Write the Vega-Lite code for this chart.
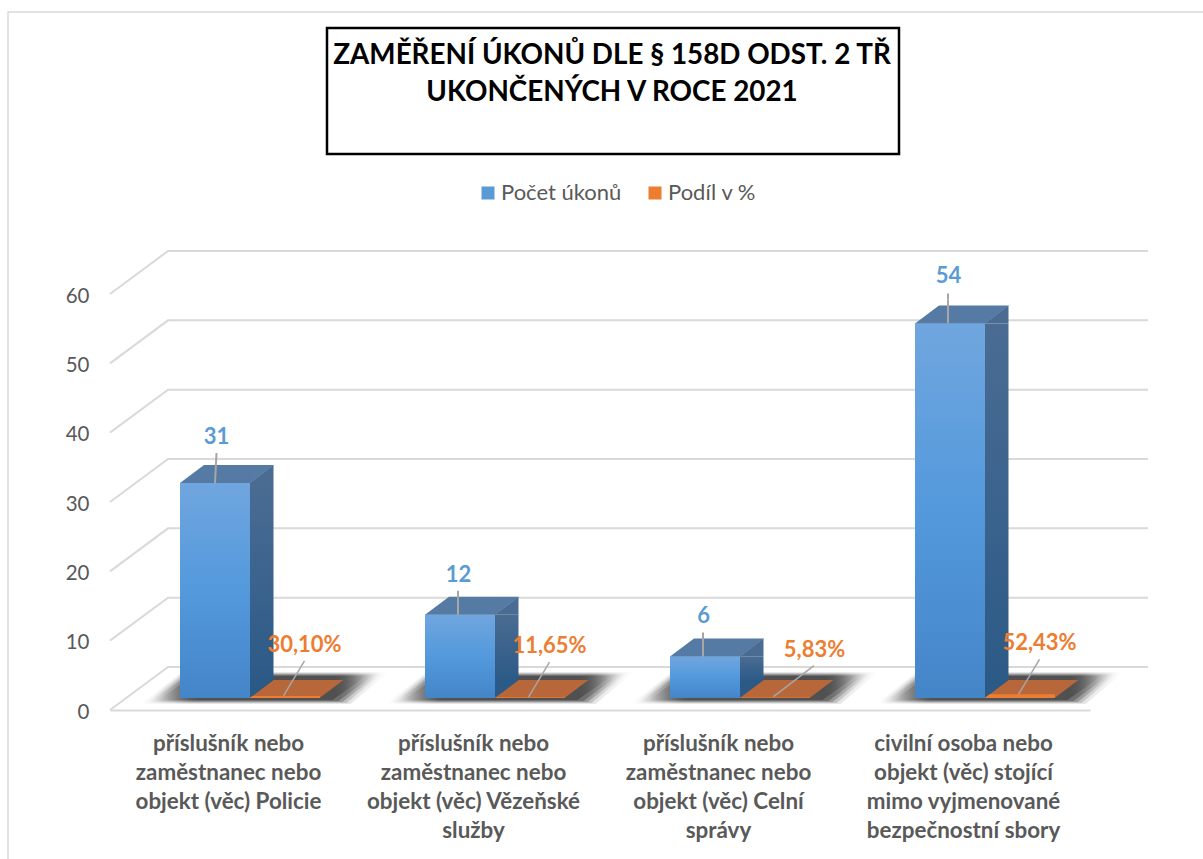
{
"$schema":"https://vega.github.io/schema/vega-lite/v6.json",
"width":980,"height":416,
"autosize":{"type":"none"},
"padding":{"left":110,"top":294,"right":113,"bottom":149},
"background":"white",
"config":{"view":{"stroke":null},"font":"Lato","locale":{"number":{"decimal":",","thousands":" ","grouping":[3],"currency":["","Kč"]}}},
"title":{"text":["ZAMĚŘENÍ ÚKONŮ DLE § 158D ODST. 2 TŘ","UKONČENÝCH V ROCE 2021"],"font":"Lato","fontSize":27.8,"fontWeight":"bold","color":"#000000","lineHeight":37,"anchor":"middle","frame":"group","dx":12,"offset":0,"dy":98},
"datasets":{"pruhy":[
{"kategorie":"příslušník nebo\nzaměstnanec nebo\nobjekt (věc) Policie","serie":"Počet úkonů","hodnota":31},
{"kategorie":"příslušník nebo\nzaměstnanec nebo\nobjekt (věc) Policie","serie":"Podíl v %","hodnota":0.301},
{"kategorie":"příslušník nebo\nzaměstnanec nebo\nobjekt (věc) Vězeňské\nslužby","serie":"Počet úkonů","hodnota":12},
{"kategorie":"příslušník nebo\nzaměstnanec nebo\nobjekt (věc) Vězeňské\nslužby","serie":"Podíl v %","hodnota":0.1165},
{"kategorie":"příslušník nebo\nzaměstnanec nebo\nobjekt (věc) Celní\nsprávy","serie":"Počet úkonů","hodnota":6},
{"kategorie":"příslušník nebo\nzaměstnanec nebo\nobjekt (věc) Celní\nsprávy","serie":"Podíl v %","hodnota":0.0583},
{"kategorie":"civilní osoba nebo\nobjekt (věc) stojící\nmimo vyjmenované\nbezpečnostní sbory","serie":"Počet úkonů","hodnota":54},
{"kategorie":"civilní osoba nebo\nobjekt (věc) stojící\nmimo vyjmenované\nbezpečnostní sbory","serie":"Podíl v %","hodnota":0.5243}
],
"dilky":[{"hodnota":0},{"hodnota":10},{"hodnota":20},{"hodnota":30},{"hodnota":40},{"hodnota":50},{"hodnota":60}]},
"data":{"name":"pruhy"},
"encoding":{
"x":{"field":"kategorie","type":"nominal","sort":null,"title":null,"scale":{"paddingInner":0,"paddingOuter":0},"axis":{"labelExpr":"split(datum.label,'\\n')","labelAngle":0,"labelFontSize":22.4,"labelFontWeight":"bold","labelColor":"#595959","labelLineHeight":29.3,"labelPadding":22,"labelOffset":-4,"labelLimit":0,"ticks":false,"domainColor":"#d9d9d9","domainWidth":2,"labelFont":"Lato"}},
"y":{"field":"hodnota","type":"quantitative","title":null,"scale":{"domain":[0,60],"nice":false},"axis":{"values":[0,10,20,30,40,50,60],"domain":false,"ticks":false,"grid":false,"labelFontSize":20.5,"labelColor":"#595959","labelPadding":21,"labelOffset":2,"labelFont":"Lato"}}
},
"layer":[
{"data":{"name":"dilky"},"transform":[{"filter":"datum.hodnota===60"}],"mark":{"type":"point","filled":false,"size":4,"opacity":1,"stroke":"#d9d9d9","strokeWidth":1.5,"shape":"M-224.5 565 L-224.5 -282 L970.5 -282"},
 "encoding":{"x":{"datum":"příslušník nebo\nzaměstnanec nebo\nobjekt (věc) Policie","type":"nominal"}}},
{"data":{"name":"dilky"},"mark":{"type":"point","filled":false,"size":4,"opacity":1,"stroke":"#d9d9d9","strokeWidth":2,"shape":"M-122.5 0 L-64.5 -43 L915.5 -43"},
 "encoding":{"x":{"datum":"příslušník nebo\nzaměstnanec nebo\nobjekt (věc) Policie","type":"nominal"}}},
{"data":{"name":"dilky"},"transform":[{"filter":"datum.hodnota===60"}],"mark":{"type":"point","filled":true,"size":4,"opacity":1,"fill":"#ffffff","stroke":"#000000","strokeWidth":2.5,"shape":"M94.5 -266 L666.5 -266 L666.5 -140 L94.5 -140 Z"},
 "encoding":{"x":{"datum":"příslušník nebo\nzaměstnanec nebo\nobjekt (věc) Policie","type":"nominal"}}},
{"transform":[{"filter":"datum.serie==='Počet úkonů'"}],"mark":{"type":"point","filled":true,"size":4,"opacity":1,"strokeWidth":0,"shape":"M-92 -6 L118 -6 L156 -38 L-50 -38 Z","fill":{"gradient":"linear","x1":0,"y1":0,"x2":1,"y2":0,"stops":[{"offset":0,"color":"rgba(50,50,50,0)"},{"offset":0.2,"color":"rgba(50,50,50,0.12)"},{"offset":0.85,"color":"rgba(50,50,50,0.12)"},{"offset":1,"color":"rgba(50,50,50,0)"}]}},
 "encoding":{"y":{"datum":0,"type":"quantitative"}}},
{"transform":[{"filter":"datum.serie==='Počet úkonů'"}],"mark":{"type":"point","filled":true,"size":4,"opacity":1,"strokeWidth":0,"shape":"M-88 -7 L114 -7 L150 -37 L-48 -37 Z","fill":{"gradient":"linear","x1":0,"y1":0,"x2":1,"y2":0,"stops":[{"offset":0,"color":"rgba(50,50,50,0)"},{"offset":0.2,"color":"rgba(50,50,50,0.2)"},{"offset":0.85,"color":"rgba(50,50,50,0.2)"},{"offset":1,"color":"rgba(50,50,50,0)"}]}},
 "encoding":{"y":{"datum":0,"type":"quantitative"}}},
{"transform":[{"filter":"datum.serie==='Počet úkonů'"}],"mark":{"type":"point","filled":true,"size":4,"opacity":1,"strokeWidth":0,"shape":"M-84 -8 L110 -8 L146 -36 L-46 -36 Z","fill":{"gradient":"linear","x1":0,"y1":0,"x2":1,"y2":0,"stops":[{"offset":0,"color":"rgba(50,50,50,0)"},{"offset":0.2,"color":"rgba(50,50,50,0.3)"},{"offset":0.85,"color":"rgba(50,50,50,0.3)"},{"offset":1,"color":"rgba(50,50,50,0)"}]}},
 "encoding":{"y":{"datum":0,"type":"quantitative"}}},
{"transform":[{"filter":"datum.serie==='Počet úkonů'"}],"mark":{"type":"point","filled":true,"size":4,"opacity":1,"strokeWidth":0,"shape":"M-80 -9 L106 -9 L141 -35 L-44 -35 Z","fill":{"gradient":"linear","x1":0,"y1":0,"x2":1,"y2":0,"stops":[{"offset":0,"color":"rgba(50,50,50,0)"},{"offset":0.2,"color":"rgba(50,50,50,0.4)"},{"offset":0.85,"color":"rgba(50,50,50,0.4)"},{"offset":1,"color":"rgba(50,50,50,0)"}]}},
 "encoding":{"y":{"datum":0,"type":"quantitative"}}},
{"transform":[{"filter":"datum.serie==='Počet úkonů'"}],"mark":{"type":"point","filled":true,"size":4,"opacity":1,"strokeWidth":0,"shape":"M-74 -10 L100 -10 L134 -34 L-40 -34 Z","fill":{"gradient":"linear","x1":0,"y1":0,"x2":1,"y2":0,"stops":[{"offset":0,"color":"rgba(50,50,50,0)"},{"offset":0.2,"color":"rgba(50,50,50,0.5)"},{"offset":0.85,"color":"rgba(50,50,50,0.5)"},{"offset":1,"color":"rgba(50,50,50,0)"}]}},
 "encoding":{"y":{"datum":0,"type":"quantitative"}}},
{"transform":[{"filter":"datum.serie==='Podíl v %'"}],"mark":{"type":"point","filled":true,"size":4,"opacity":1,"strokeWidth":0,"fill":"#b8673a","shape":"M17 -12 L87 -12 L111 -30 L41 -30 Z"},
 "encoding":{"y":{"datum":0,"type":"quantitative"}}},
{"transform":[{"filter":"datum.serie==='Podíl v %'"}],"mark":{"type":"bar","width":70,"xOffset":52.5,"yOffset":-12,"y2Offset":-12},
 "encoding":{"y2":{"datum":0},"color":{"field":"serie","type":"nominal","title":null,"scale":{"domain":["Počet úkonů","Podíl v %"],"range":["#5b9bd5","#ed7d31"]},"legend":{"orient":"none","legendX":367,"legendY":-112,"direction":"horizontal","columns":2,"symbolType":"square","symbolSize":169,"symbolStrokeWidth":0,"labelFontSize":22,"labelColor":"#595959","labelFont":"Lato","labelOffset":2,"columnPadding":22,"padding":0}}}},
{"transform":[{"filter":"datum.serie==='Počet úkonů'"}],"mark":{"type":"bar","width":24,"xOffset":29,"yOffset":-12,"y2Offset":-30,"fill":{"gradient":"linear","x1":0,"y1":0,"x2":0,"y2":1,"stops":[{"offset":0,"color":"#4a6c93"},{"offset":1,"color":"#2c5a87"}]}},
 "encoding":{"y2":{"datum":0}}},
{"transform":[{"filter":"datum.serie==='Počet úkonů'"}],"mark":{"type":"point","filled":true,"size":4,"opacity":1,"strokeWidth":0,"fill":"#4a6c93","shape":"M17 -12 L41 -12 L41 -30 Z"}},
{"transform":[{"filter":"datum.serie==='Počet úkonů'"}],"mark":{"type":"point","filled":true,"size":4,"opacity":1,"strokeWidth":0,"fill":"#2c5a87","shape":"M17 -12 L17 -30 L41 -30 Z"},
 "encoding":{"y":{"datum":0,"type":"quantitative"}}},
{"transform":[{"filter":"datum.serie==='Počet úkonů'"}],"mark":{"type":"bar","width":70,"xOffset":-17.5,"yOffset":-12,"y2Offset":-12},
 "encoding":{"y2":{"datum":0},"color":{"field":"serie","type":"nominal","title":null}}},
{"transform":[{"filter":"datum.serie==='Počet úkonů'"}],"mark":{"type":"bar","width":70,"xOffset":-17.5,"yOffset":-12,"y2Offset":-12,"fill":{"gradient":"linear","x1":0,"y1":0,"x2":0,"y2":1,"stops":[{"offset":0,"color":"#70a6df"},{"offset":0.5,"color":"#5399dc"},{"offset":1,"color":"#4485c8"}]}},
 "encoding":{"y2":{"datum":0}}},
{"transform":[{"filter":"datum.serie==='Počet úkonů'"}],"mark":{"type":"point","filled":true,"size":4,"opacity":1,"strokeWidth":0,"fill":"#557aa3","shape":"M-52.5 -12 L17.5 -12 L41.5 -30 L-28.5 -30 Z"}},
{"transform":[{"filter":"datum.serie==='Počet úkonů' && datum.hodnota===31"}],"mark":{"type":"point","filled":false,"size":4,"opacity":1,"stroke":"#a6a6a6","strokeWidth":2,"shape":"M-17.5 -12 L-16 -42"}},
{"transform":[{"filter":"datum.serie==='Počet úkonů' && datum.hodnota!==31"}],"mark":{"type":"point","filled":false,"size":4,"opacity":1,"stroke":"#a6a6a6","strokeWidth":2,"shape":"M-19.5 -12 L-19.5 -36"}},
{"transform":[{"filter":"datum.serie==='Počet úkonů' && datum.hodnota===54"}],"mark":{"type":"point","filled":false,"size":4,"opacity":1,"stroke":"#a6a6a6","strokeWidth":2,"shape":"M-19.5 -36 L-19.5 -42"}},
{"transform":[{"filter":"datum.serie==='Podíl v %' && datum.hodnota!==0.0583"}],"mark":{"type":"point","filled":false,"size":4,"opacity":1,"stroke":"#a6a6a6","strokeWidth":1.5,"shape":"M51 -12 L72 -47"}},
{"transform":[{"filter":"datum.serie==='Podíl v %' && datum.hodnota===0.0583"}],"mark":{"type":"point","filled":false,"size":4,"opacity":1,"stroke":"#a6a6a6","strokeWidth":1.5,"shape":"M51 -13 L91.5 -44"}},
{"transform":[{"filter":"datum.serie==='Počet úkonů' && datum.hodnota===31"}],"mark":{"type":"text","font":"Lato","fontWeight":"bold","fontSize":22,"color":"#5b9bd5","dx":-16,"dy":-58},"encoding":{"text":{"field":"hodnota","type":"quantitative","format":"d"}}},
{"transform":[{"filter":"datum.serie==='Počet úkonů' && datum.hodnota===54"}],"mark":{"type":"text","font":"Lato","fontWeight":"bold","fontSize":22,"color":"#5b9bd5","dx":-19,"dy":-60},"encoding":{"text":{"field":"hodnota","type":"quantitative","format":"d"}}},
{"transform":[{"filter":"datum.serie==='Počet úkonů' && datum.hodnota<=20"}],"mark":{"type":"text","font":"Lato","fontWeight":"bold","fontSize":22,"color":"#5b9bd5","dx":-19,"dy":-52},"encoding":{"text":{"field":"hodnota","type":"quantitative","format":"d"}}},
{"transform":[{"filter":"datum.serie==='Podíl v %' && datum.hodnota!==0.0583"}],"mark":{"type":"text","font":"Lato","fontWeight":"bold","fontSize":22,"color":"#ed7d31","dx":72,"dy":-63},"encoding":{"text":{"field":"hodnota","type":"quantitative","format":".2%"}}},
{"transform":[{"filter":"datum.serie==='Podíl v %' && datum.hodnota===0.0583"}],"mark":{"type":"text","font":"Lato","fontWeight":"bold","fontSize":22,"color":"#ed7d31","dx":92,"dy":-60},"encoding":{"text":{"field":"hodnota","type":"quantitative","format":".2%"}}}
]
}
